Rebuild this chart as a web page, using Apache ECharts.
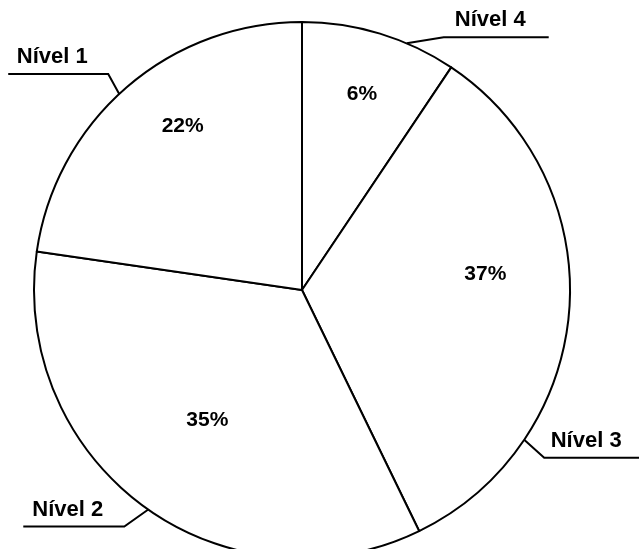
<!DOCTYPE html>
<html>
<head>
<meta charset="utf-8">
<script src="https://cdn.jsdelivr.net/npm/echarts@6/dist/echarts.min.js"></script>
<style>
html,body{margin:0;padding:0;background:#fff;}
#chart{width:639px;height:549px;}
</style>
</head>
<body>
<div id="chart"></div>
<script>
// slices clockwise from 12 o'clock
var niveis = ['Nível 4', 'Nível 3', 'Nível 2', 'Nível 1'];
// printed percentages
var rotulos = ['6%', '37%', '35%', '22%'];
// share of the circle each slice takes in the drawing (the drawing does not follow the printed numbers)
var fatias = [9.4, 33.4, 34.5, 22.7];

// leader lines: anchor angle on the rim (deg clockwise from top), bend offset, horizontal run
var guias = [
	{ang: 23,  dx: 37,  dy: -6,  len: 105},
	{ang: 124, dx: 20,  dy: 18,  len: 96},
	{ang: 215, dx: -24, dy: 17,  len: 101},
	{ang: 317, dx: -11, dy: -20, len: 100}
];
// where the percentages sit (angle, distance from centre)
var posPct = [
	{ang: 17,  r: 205},
	{ang: 85,  r: 184},
	{ang: 216, r: 161},
	{ang: 324, r: 203}
];

var CX = 302, CY = 290, R = 268;
var fonte = '"Liberation Sans", Arial, sans-serif';
var myChart = echarts.init(document.getElementById('chart'));

var dados = [];
for (var i = 0; i < niveis.length; i++) {
	dados.push({name: niveis[i], value: fatias[i]});
}

var option = {
	backgroundColor: '#fff',
	animation: false,
	series: [{
		// slices + names outside
		type: 'pie',
		center: [CX, CY],
		radius: R,
		startAngle: 90,
		clockwise: true,
		avoidLabelOverlap: false,
		silent: true,
		data: dados,
		itemStyle: {
			color: '#fff',
			borderColor: '#000',
			borderWidth: 2
		},
		label: {
			show: true,
			position: 'outside',
			formatter: '{b}',
			color: '#000',
			fontFamily: fonte,
			fontWeight: 'bold',
			fontSize: 22,
			distanceToLabelLine: 0
		},
		labelLine: {
			show: true,
			length: 20,
			length2: 20,
			lineStyle: {color: '#000', width: 2}
		},
		labelLayout: function(p) {
			var g = guias[p.dataIndex];
			var a = g.ang * Math.PI / 180;
			var x0 = CX + R * Math.sin(a), y0 = CY - R * Math.cos(a);
			var x1 = x0 + g.dx, y1 = y0 + g.dy;
			var x2 = x1 + (g.dx > 0 ? 1 : -1) * g.len;
			return {
				x: (x1 + x2) / 2 - 6,
				y: y1 - 6,
				align: 'center',
				verticalAlign: 'bottom',
				labelLinePoints: [[x0, y0], [x1, y1], [x2, y1]]
			};
		}
	}, {
		// percentages inside
		type: 'pie',
		center: [CX, CY],
		radius: [108, R],
		startAngle: 90,
		clockwise: true,
		silent: true,
		data: dados,
		itemStyle: {
			color: 'rgba(0,0,0,0)',
			borderWidth: 0
		},
		label: {
			show: true,
			position: 'inside',
			formatter: function(p) { return rotulos[p.dataIndex]; },
			color: '#000',
			fontFamily: fonte,
			fontWeight: 'bold',
			fontSize: 21
		},
		labelLine: {show: false},
		labelLayout: function(p) {
			var q = posPct[p.dataIndex];
			var a = q.ang * Math.PI / 180;
			return {
				x: CX + q.r * Math.sin(a),
				y: CY - q.r * Math.cos(a),
				align: 'center',
				verticalAlign: 'middle'
			};
		}
	}]
};

myChart.setOption(option);
</script>
</body>
</html>
